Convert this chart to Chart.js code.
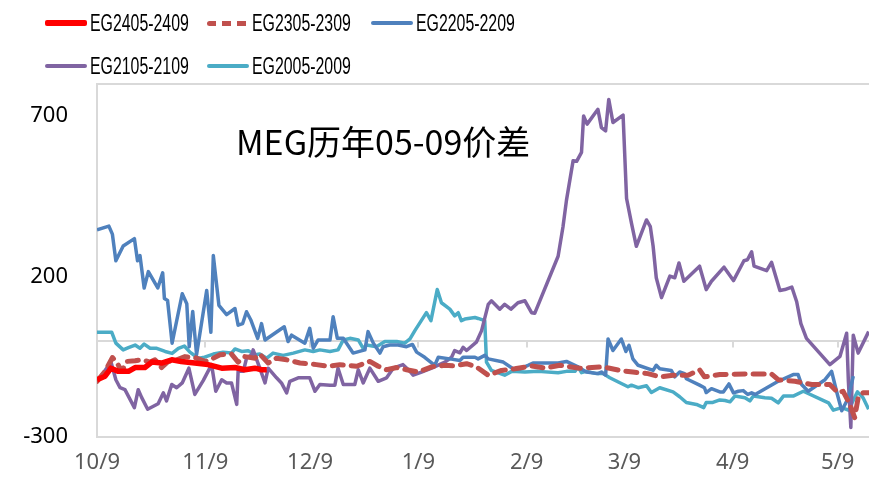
<!DOCTYPE html>
<html>
<head>
<meta charset="utf-8">
<script src="https://cdn.jsdelivr.net/npm/chart.js@4.4.1/dist/chart.umd.min.js"></script>
<style>
  html, body { margin: 0; padding: 0; background: #fff; }
  #wrap { position: relative; width: 869px; height: 479px; overflow: hidden; }
  #legend .item { position: absolute; height: 26px; display: flex; align-items: center; }
  #legend .swatch { width: 42px; }
  #legend .label { font: 23px "Liberation Sans", sans-serif; color: #000; white-space: nowrap;
    margin-left: 3px; transform: scaleX(0.69); transform-origin: left center; }
  #title { position: absolute; left: 236px; top: 124px; font: 34px "Noto Sans CJK SC", sans-serif;
    line-height: 34px; color: #000; white-space: nowrap; }
</style>
</head>
<body>
<div id="wrap">
  <canvas id="myChart" width="869" height="479"></canvas>
  <div id="legend"></div>
  <div id="title">MEG历年05-09价差</div>
</div>
<script>
// x = days after 10/9, y = 05-09 spread
const monthDays = [0, 31, 61, 92, 123, 151, 182, 212]
const monthLabels = ['10/9', '11/9', '12/9', '1/9', '2/9', '3/9', '4/9', '5/9']
const yTicks = [-300, 0, 200, 700]

const eg2405 = [[0,-122],[2.3,-111],[4,-86],[6.1,-96],[9,-96],[10.9,-84],[13.7,-84],[15.7,-67],[18.5,-70],[21.4,-60],[24.1,-65],[28,-70],[31.8,-75],[35.7,-86],[39.5,-84],[42.3,-91],[45.2,-86],[47.1,-91],[48.6,-91]]

const eg2305 = [[0,-127],[2.3,-96],[4.4,-53],[5.6,-67],[7.1,-96],[8.5,-65],[10.9,-63],[12.8,-60],[15.2,-67],[16.6,-60],[18.5,-84],[20.4,-65],[22.8,-60],[25.2,-50],[28,-53],[30.9,-65],[33.3,-55],[35.2,-44],[38.5,-42],[40.4,-67],[42.3,-50],[45.2,-55],[46.6,-42],[49,-70],[51.4,-55],[54.3,-60],[58.1,-70],[62.8,-75],[66.2,-80],[69.5,-75],[74.3,-80],[78.1,-65],[80.5,-80],[82.9,-91],[85.8,-84],[88.6,-91],[91.9,-98],[95.8,-82],[99.6,-77],[102.4,-79],[105.8,-72],[108.6,-82],[112,-108],[115.8,-93],[119.6,-88],[124.4,-79],[128.2,-86],[132.5,-77],[138.2,-86],[144.9,-82],[149.6,-93],[153.4,-98],[157.7,-103],[161.1,-113],[164.9,-108],[169.2,-108],[172.5,-91],[173.9,-113],[178.3,-106],[186.5,-104],[193.1,-104],[195,-122],[199.8,-127],[204.6,-137],[209.8,-137],[212.2,-163],[213.6,-158],[215.5,-199],[216.9,-240],[217.9,-178],[219.3,-163],[220.9,-163]]

const eg2205 = [[0,345],[3.4,357],[4.4,332],[5.4,249],[7.5,295],[10.7,318],[11.6,249],[12.3,265],[13.5,164],[14.7,215],[17.4,164],[18.8,211],[19.3,131],[20.2,125],[21.5,-8],[24.4,146],[25.7,115],[26.4,-19],[27.4,91],[28.5,-44],[31.4,156],[32.6,26],[33.3,265],[34.9,110],[37.1,81],[39.5,100],[40.4,48],[41.7,53],[42.8,90],[44,65],[46,7],[47.1,53],[48.1,2],[50.9,23],[53.6,43],[54.7,-3],[55.7,17],[59.5,-8],[60.9,38],[61.9,-24],[63.3,2],[66.7,2],[67.6,74],[68.8,7],[70.5,7],[73.3,-39],[76.7,-29],[77.6,28],[79.1,-8],[81,-39],[81.9,-19],[83.8,-14],[86.2,-14],[88.6,-19],[90.3,-12],[91.5,-36],[93.8,-52],[96.7,-77],[97.7,-52],[101,-57],[103.9,-62],[104.8,-52],[108.2,-52],[109.1,-57],[111,-46],[112,-57],[116.3,-67],[119.1,-88],[121,-88],[123.4,-77],[124.8,-70],[132,-70],[134.4,-65],[137.7,-82],[140.1,-98],[143.4,-103],[144.4,-98],[145.6,-108],[146.3,5],[147.7,-31],[150.1,5],[151.4,-34],[152.3,-15],[153.4,-57],[154.9,-77],[159.2,-93],[160.1,-77],[161.1,-88],[164.4,-93],[165.4,-113],[166.8,-98],[168.2,-103],[168.7,-119],[172.5,-139],[173.9,-147],[174.4,-162],[175.9,-150],[178.3,-160],[179.3,-160],[180.9,-135],[182.2,-163],[183.6,-158],[185,-156],[186.3,-168],[187.4,-163],[188.4,-168],[195,-127],[199.3,-106],[200.7,-106],[201.7,-137],[203.6,-158],[208.4,-122],[210.3,-96],[211.7,-158],[213.2,-219],[215.1,-178],[216.5,-111]]

const eg2105 = [[0,-127],[1.8,-101],[4,-67],[5.4,-122],[6.6,-147],[8,-153],[10.7,-209],[11.8,-153],[12.8,-178],[14.5,-214],[17.5,-197],[19,-163],[19.9,-188],[21.4,-137],[22.8,-147],[24.4,-132],[26.3,-86],[28,-168],[30.4,-125],[32.8,-75],[34,-158],[35.7,-122],[37.1,-132],[38.5,-132],[40,-199],[40.4,-96],[41.9,-96],[42.8,-55],[44.3,-44],[44.7,-29],[46.6,-86],[48.1,-132],[49,-86],[51.4,-116],[52.8,-132],[54.3,-163],[55.2,-127],[57.6,-116],[60.9,-116],[62.4,-158],[63.8,-137],[66.7,-139],[68.1,-139],[69,-86],[70.5,-137],[73.8,-137],[74.8,-91],[76.2,-132],[78.1,-86],[80.5,-127],[82.9,-116],[84.8,-86],[87.6,-75],[89.6,-96],[90.5,-108],[92.9,-98],[95.8,-86],[99.6,-67],[101.5,-52],[102.4,-31],[103.9,-38],[104.8,-21],[105.8,-31],[108.6,-5],[110.1,31],[112,113],[112.9,124],[115.3,98],[116.7,113],[118.5,98],[120.5,118],[122.5,124],[124.4,87],[125.3,85],[132,263],[133.4,355],[134.4,438],[136.3,561],[137.3,559],[138.7,587],[139.3,700],[140.3,675],[143.4,721],[144.4,664],[145.6,654],[146.5,752],[147.7,680],[150.6,703],[151.6,443],[153,366],[154.4,294],[157.3,376],[158.4,355],[159.2,294],[160.1,196],[161.6,134],[164,201],[165.4,196],[166.6,242],[168,185],[172.5,232],[174.4,159],[175.9,185],[179.5,229],[182.2,187],[185.2,249],[186.2,252],[187.4,277],[188.1,232],[191.7,218],[193.1,244],[195.5,156],[196.9,159],[198.9,167],[200.3,121],[201.5,53],[203.1,7],[209.8,-75],[212.7,-49],[214.6,23],[215.1,-127],[215.8,-271],[216.5,17],[217.9,-39],[220.9,28]]

const eg2005 = [[0,26],[4.2,26],[5.4,-8],[7.5,-29],[9,-22],[10.9,-14],[12.3,-24],[13.5,-11],[15.2,-24],[17.1,-24],[19.5,-34],[21.5,-40],[23.3,-24],[25,-17],[26.6,-36],[29,-55],[30.4,-53],[33.3,-42],[36.1,-36],[38.5,-39],[39.5,-26],[41.4,-34],[43.3,-32],[45.2,-44],[46.6,-42],[48.6,-55],[50.4,-39],[53.3,-46],[56.2,-39],[59.5,-29],[61.9,-34],[63.8,-29],[66.7,-34],[69,-29],[70.5,2],[72.4,7],[74.8,2],[76.2,-24],[77.2,-14],[80,-19],[82.4,-3],[85.8,-3],[88.1,-8],[89.6,5],[91,31],[94.3,87],[95.6,62],[97.4,159],[98.6,118],[101,98],[102.4,77],[103.4,87],[104.3,62],[105.3,67],[108.2,72],[109.1,69],[111,62],[111.5,-67],[112.9,-93],[116.7,-108],[118.7,-96],[122.5,-98],[126.3,-96],[132,-100],[134.4,-96],[136.8,-96],[137.7,-82],[138.7,-100],[140.1,-96],[143,-103],[144.9,-103],[146.8,-116],[150.1,-134],[152,-144],[153,-139],[154.9,-147],[157.3,-141],[158.7,-162],[161.1,-147],[164.9,-160],[166.8,-175],[168.7,-193],[171.6,-199],[173.7,-209],[174.4,-193],[176.3,-193],[178.3,-185],[179.8,-187],[181.2,-191],[182.6,-173],[185.5,-178],[186.9,-188],[187.9,-173],[191.2,-178],[193.1,-180],[195,-194],[196.5,-173],[199.3,-173],[202.2,-158],[209.4,-194],[210.8,-217],[213.2,-209],[215.1,-217],[217.7,-160],[219.3,-178],[220.9,-214]]

const toPoints = (series) => series.map(p => ({ x: p[0], y: p[1] }))

const datasets = [
  { label: 'EG2405-2409', data: toPoints(eg2405), borderColor: '#FF0000', borderWidth: 5.5 },
  { label: 'EG2305-2309', data: toPoints(eg2305), borderColor: '#C0504D', borderWidth: 5, borderDash: [11, 8], borderCapStyle: 'round' },
  { label: 'EG2205-2209', data: toPoints(eg2205), borderColor: '#4F81BD', borderWidth: 3.5 },
  { label: 'EG2105-2109', data: toPoints(eg2105), borderColor: '#8064A2', borderWidth: 3.5 },
  { label: 'EG2005-2009', data: toPoints(eg2005), borderColor: '#4BACC6', borderWidth: 3.5 }
]

// legend in the Excel grid: 3 per row
const legendSlots = [[45, 10], [207, 10], [371, 10], [45, 53], [207, 53]]
const legendBox = document.querySelector('#legend')
datasets.forEach((ds, i) => {
  const [left, top] = legendSlots[i]
  const line = ds.borderDash
    ? `height:5px;border-radius:3px;background:repeating-linear-gradient(to right, ${ds.borderColor} 0 9px, transparent 9px 15px);`
    : `height:${Math.round(ds.borderWidth)}px;border-radius:2px;background:${ds.borderColor};`
  legendBox.innerHTML += `
    <div class="item" style="left:${left}px;top:${top}px">
      <span class="swatch" style="${line}"></span><span class="label">${ds.label}</span>
    </div>
  `
})

const zeroLineTicks = {
  id: 'zeroLineTicks',
  beforeDatasetsDraw(chart) {
    const { ctx, chartArea, scales: { x, y } } = chart
    const y0 = y.getPixelForValue(0)
    ctx.save()
    ctx.strokeStyle = '#d9d9d9'
    ctx.lineWidth = 2
    ctx.beginPath()
    ctx.moveTo(chartArea.left, chartArea.top)
    ctx.lineTo(chartArea.right, chartArea.top)
    monthDays.forEach(d => {
      const px = Math.round(x.getPixelForValue(d))
      ctx.moveTo(px, y0)
      ctx.lineTo(px, y0 + 7)
    })
    ctx.stroke()
    ctx.restore()
  }
}

Chart.defaults.font.family = '"Noto Sans", sans-serif'

new Chart(document.getElementById('myChart'), {
  type: 'line',
  data: { datasets },
  options: {
    responsive: false,
    animation: false,
    devicePixelRatio: 1,
    layout: { padding: { top: 84, right: 0, left: 0, bottom: 0 } },
    elements: {
      point: { radius: 0 },
      line: { tension: 0, borderJoinStyle: 'round', fill: false }
    },
    plugins: { legend: { display: false }, title: { display: false }, tooltip: { enabled: false } },
    scales: {
      x: {
        type: 'linear',
        min: 0,
        max: 221,
        afterBuildTicks: s => { s.ticks = monthDays.map(v => ({ value: v })) },
        afterFit: s => { s.height = 39 },
        grid: { display: false, drawTicks: false },
        border: { display: true, color: '#d9d9d9', width: 2 },
        ticks: {
          autoSkip: false,
          maxRotation: 0,
          padding: 13,
          color: '#595959',
          font: { size: 22 },
          callback: (v, i) => monthLabels[i]
        }
      },
      y: {
        min: -300,
        max: 800,
        afterBuildTicks: s => { s.ticks = yTicks.map(v => ({ value: v })) },
        afterFit: s => { s.width = 97 },
        grid: {
          drawTicks: false,
          lineWidth: 2,
          color: c => (c.tick && c.tick.value === 0 ? '#d9d9d9' : 'rgba(0,0,0,0)')
        },
        border: { display: true, color: '#d9d9d9', width: 2 },
        ticks: {
          padding: 29,
          color: '#000',
          font: { size: 22 },
          callback: v => (v === 0 ? '' : v)
        }
      }
    }
  },
  plugins: [zeroLineTicks]
})
</script>
</body>
</html>
